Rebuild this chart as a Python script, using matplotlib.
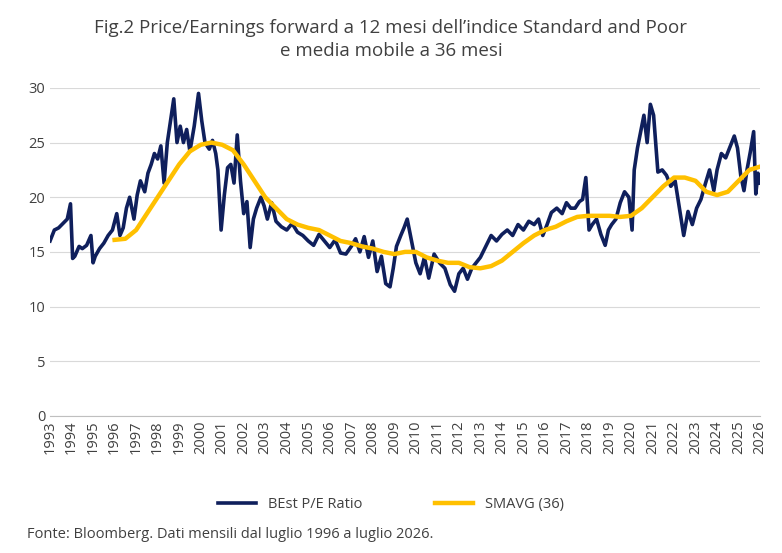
import matplotlib
matplotlib.use("Agg")
import matplotlib.pyplot as plt

NAVY = "#0F1F5C"
GOLD = "#FFC000"
TXT = "#404040"

plt.rcParams.update({"font.family": ["Open Sans", "DejaVu Sans"]})

# BEst P/E Ratio (decimal year, value)
pe_t = [1993.0, 1993.2, 1993.4, 1993.6, 1993.8, 1993.95, 1994.05, 1994.15, 1994.35, 1994.5, 1994.7, 1994.9, 1995.0, 1995.1,
        1995.3, 1995.5, 1995.7, 1995.9, 1996.1, 1996.25, 1996.4, 1996.55, 1996.7, 1996.9, 1997.05, 1997.2, 1997.4,
        1997.55, 1997.7, 1997.85, 1998.0, 1998.15, 1998.3, 1998.45, 1998.6, 1998.75, 1998.9, 1999.05, 1999.2, 1999.35,
        1999.5, 1999.7, 1999.9, 2000.05, 2000.2, 2000.4, 2000.55, 2000.7, 2000.8, 2000.95, 2001.1, 2001.25, 2001.4,
        2001.55, 2001.7, 2001.85, 2002.0, 2002.15, 2002.3, 2002.45, 2002.6, 2002.8, 2002.95, 2003.1, 2003.3, 2003.5,
        2003.75, 2004.0, 2004.25, 2004.5, 2004.75, 2005.0, 2005.25, 2005.5, 2005.75, 2006.0, 2006.25, 2006.5, 2006.75,
        2007.0, 2007.2, 2007.4, 2007.6, 2007.8, 2008.0, 2008.2, 2008.4, 2008.6, 2008.8, 2008.95, 2009.1, 2009.3,
        2009.45, 2009.6, 2009.8, 2010.0, 2010.2, 2010.4, 2010.6, 2010.85, 2011.1, 2011.35, 2011.6, 2011.8, 2012.0,
        2012.2, 2012.4, 2012.6, 2012.8, 2013.0, 2013.25, 2013.5, 2013.75, 2014.0, 2014.25, 2014.5, 2014.75, 2015.0,
        2015.25, 2015.5, 2015.7, 2015.9, 2016.1, 2016.3, 2016.55, 2016.8, 2017.0, 2017.2, 2017.4, 2017.6, 2017.75,
        2017.9, 2018.05, 2018.2, 2018.4, 2018.6, 2018.8, 2018.95, 2019.1, 2019.3, 2019.5, 2019.7, 2019.9, 2020.05,
        2020.15, 2020.3, 2020.45, 2020.6, 2020.75, 2020.9, 2021.05, 2021.25, 2021.45, 2021.65, 2021.85, 2022.05,
        2022.25, 2022.45, 2022.65, 2022.85, 2023.05, 2023.25, 2023.45, 2023.65, 2023.85, 2024.0, 2024.2, 2024.4,
        2024.6, 2024.8, 2024.95, 2025.1, 2025.25, 2025.4, 2025.55, 2025.7, 2025.8, 2025.9, 2026.0]
pe_v = [16.0, 17.0, 17.2, 17.6, 18.0, 19.4, 14.4, 14.6, 15.5, 15.3, 15.6, 16.5, 14.0, 14.6,
        15.3, 15.8, 16.5, 17.0, 18.5, 16.5, 17.2, 19.0, 20.0, 18.0, 20.2, 21.5, 20.5,
        22.2, 23.0, 24.0, 23.5, 24.7, 21.3, 25.0, 27.0, 29.0, 25.0, 26.5, 25.0, 26.2,
        24.2, 26.5, 29.5, 27.0, 25.0, 24.4, 25.2, 24.0, 22.5, 17.0, 20.2, 22.7, 23.0,
        21.3, 25.7, 21.5, 18.5, 19.6, 15.4, 18.0, 19.0, 20.0, 19.2, 18.0, 19.5, 17.8,
        17.3, 17.0, 17.6, 16.8, 16.5, 16.0, 15.6, 16.6, 16.0, 15.4, 16.1, 14.9, 14.8,
        15.5, 16.2, 15.0, 16.4, 14.5, 16.0, 13.2, 14.6, 12.1, 11.8, 13.5, 15.5, 16.5,
        17.2, 18.0, 16.0, 14.0, 13.0, 14.5, 12.6, 14.8, 14.0, 13.5, 12.0, 11.4, 13.0,
        13.5, 12.5, 13.5, 14.0, 14.5, 15.5, 16.5, 16.0, 16.6, 17.0, 16.5, 17.5, 17.0,
        17.8, 17.5, 18.0, 16.5, 17.5, 18.6, 19.0, 18.5, 19.5, 19.0, 19.0, 19.6, 19.8,
        21.8, 17.0, 17.5, 18.0, 16.6, 15.6, 17.0, 17.5, 18.0, 19.5, 20.5, 20.0, 17.0,
        22.5, 24.5, 26.0, 27.5, 25.0, 28.5, 27.5, 22.3, 22.5, 22.0, 21.0, 21.5,
        19.0, 16.5, 18.7, 17.5, 19.0, 19.8, 21.2, 22.5, 20.6, 22.5, 24.0, 23.6,
        24.6, 25.6, 24.5, 22.0, 20.6, 22.6, 24.2, 26.0, 20.3, 22.2, 21.3]

# SMAVG (36)
sma_t = [1996.0, 1996.5, 1997.0, 1997.5, 1998.0, 1998.5, 1999.0, 1999.5, 2000.0, 2000.5, 2001.0, 2001.5, 2002.0,
         2002.5, 2003.0, 2003.5, 2004.0, 2004.5, 2005.0, 2005.5, 2006.0, 2006.5, 2007.0, 2007.5, 2008.0, 2008.5,
         2009.0, 2009.5, 2010.0, 2010.5, 2011.0, 2011.5, 2012.0, 2012.5, 2013.0, 2013.5, 2014.0, 2014.5, 2015.0,
         2015.5, 2016.0, 2016.5, 2017.0, 2017.5, 2018.0, 2018.5, 2019.0, 2019.5, 2020.0, 2020.5, 2021.0, 2021.5,
         2022.0, 2022.5, 2023.0, 2023.5, 2024.0, 2024.5, 2025.0, 2025.5, 2026.0]
sma_v = [16.1, 16.2, 17.0, 18.5, 20.0, 21.5, 23.0, 24.2, 24.8, 25.0, 24.8, 24.3, 23.0,
         21.5, 20.0, 19.0, 18.0, 17.5, 17.2, 17.0, 16.5, 16.0, 15.8, 15.5, 15.3, 15.0,
         14.8, 15.0, 15.0, 14.5, 14.2, 14.0, 14.0, 13.6, 13.5, 13.7, 14.2, 15.0, 15.8,
         16.5, 17.0, 17.3, 17.8, 18.2, 18.3, 18.3, 18.3, 18.2, 18.3, 19.0, 20.0, 21.0,
         21.8, 21.8, 21.5, 20.5, 20.2, 20.5, 21.5, 22.5, 22.8]

years = list(range(1993, 2027))

fig = plt.figure(figsize=(7.82, 5.53), dpi=100)
ax = fig.add_axes([0.064, 0.248, 0.908, 0.593])
ax.plot(pe_t, pe_v, color=NAVY, lw=2.6, label="BEst P/E Ratio", zorder=2)
ax.plot(sma_t, sma_v, color=GOLD, lw=3.2, label="SMAVG (36)", zorder=3)
ax.set_xlim(1993, 2026)
ax.set_ylim(0, 30)
ax.set_xticks(years)
ax.set_xticklabels([str(y) for y in years], rotation=90, fontsize=10.5, color=TXT)
ax.set_yticks(range(0, 31, 5))
ax.tick_params(axis="y", labelsize=10.5, colors=TXT, length=0)
ax.tick_params(axis="x", colors=TXT, length=0, pad=3)
ax.grid(axis="y", color="#D9D9D9", lw=0.8)
ax.set_axisbelow(True)
for s in ["top", "right", "left"]:
    ax.spines[s].set_visible(False)
ax.spines["bottom"].set_color("#BFBFBF")

fig.text(0.5, 0.965, "Fig.2 Price/Earnings forward a 12 mesi dell\u2019indice Standard and Poor\ne media mobile a 36 mesi",
         ha="center", va="top", fontsize=13.5, color=TXT, linespacing=1.35)
fig.legend(loc="center", bbox_to_anchor=(0.5, 0.087), ncol=2, frameon=False, fontsize=10.5,
           handlelength=2.6, columnspacing=5, labelcolor=TXT)
fig.text(0.035, 0.02, "Fonte: Bloomberg. Dati mensili dal luglio 1996 a luglio 2026.", fontsize=10.5,
         color=TXT, va="bottom")

fig.savefig("out.png", dpi=100, facecolor="white")
